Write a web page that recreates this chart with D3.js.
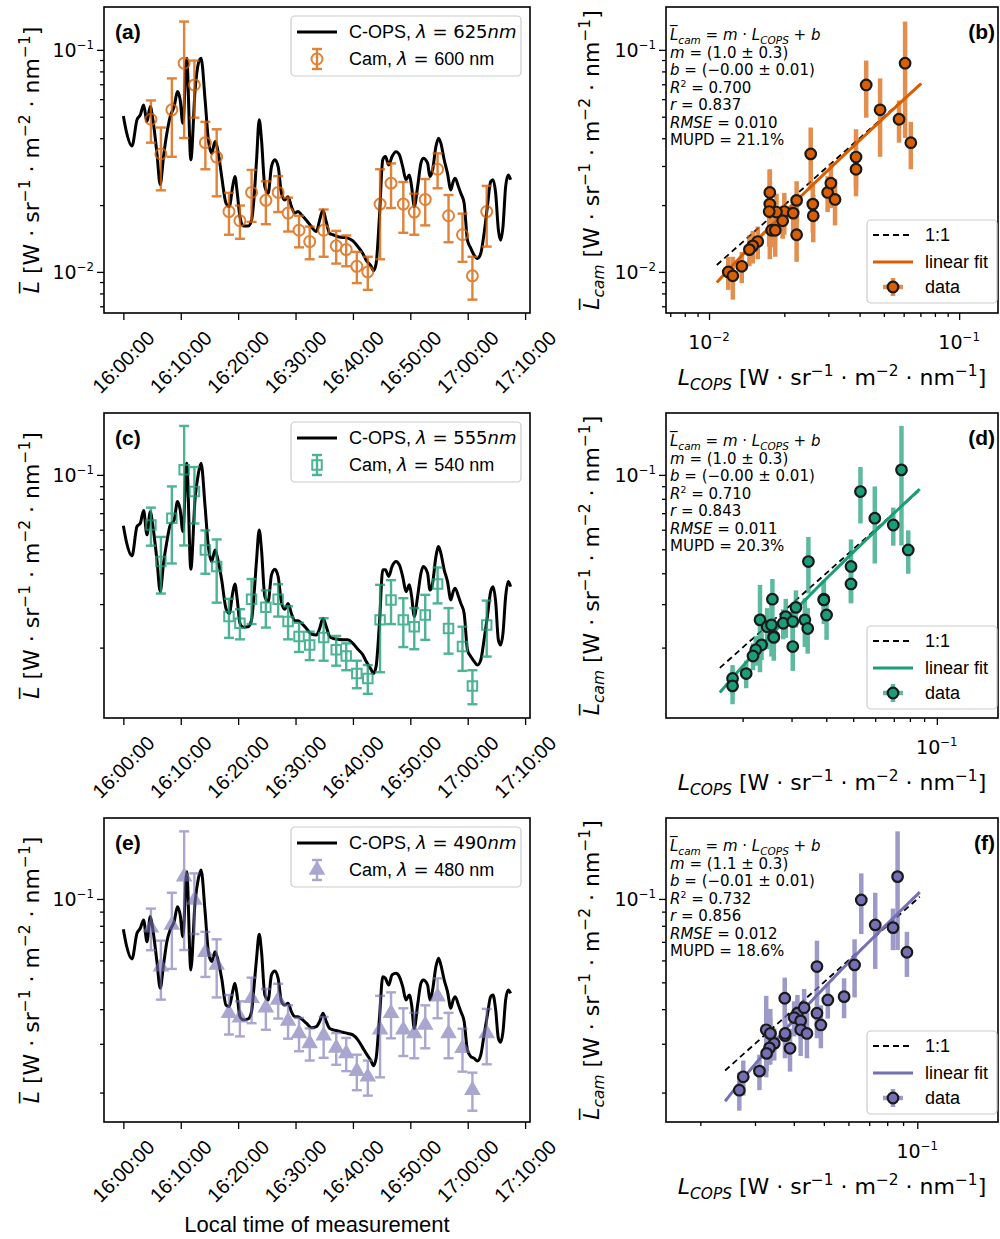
<!DOCTYPE html>
<html><head><meta charset="utf-8">
<script src="https://cdn.jsdelivr.net/npm/d3@7"></script>
<style>
body{margin:0;background:#fff;}
svg{display:block;}
</style></head><body>
<svg id="chart" width="1000" height="1239"></svg>
<script>
// ---------------- DATA ----------------
// C-OPS time stamps (minutes after 16:00:00)
const copsMinutes = [0.0,0.52,1.50,2.37,2.95,3.53,4.11,4.69,5.15,5.85,
6.42,7.00,7.58,8.16,8.85,9.43,9.90,10.36,11.05,11.75,
12.50,13.08,13.54,14.24,14.81,15.39,15.97,16.55,17.13,17.88,
18.46,19.04,19.44,19.85,20.31,20.89,21.76,22.34,22.74,23.21,
23.67,24.07,24.65,25.23,25.81,26.39,26.97,27.55,28.13,28.70,
29.28,29.86,30.44,31.02,31.89,32.75,33.62,34.20,34.78,35.36,
35.94,36.52,37.38,38.25,39.12,39.99,40.86,41.72,42.30,43.17,
43.58,44.04,44.62,45.20,45.66,46.24,46.82,47.51,48.09,48.67,
49.25,49.83,50.23,50.69,51.27,51.85,52.26,53.01,53.41,53.88,
54.46,54.92,55.32,55.90,56.48,57.06,57.47,57.81,58.39,58.80,
59.38,59.95,60.53,61.11,61.69,62.27,62.85,63.43,64.00,64.41,
64.87,65.34,65.74,66.15,66.61,67.07,67.48];
const cops625 = [0.0504,0.0429,0.0369,0.0484,0.0510,0.0565,0.0476,0.0556,0.0484,0.0342,
0.0247,0.0331,0.0421,0.0501,0.0556,0.0649,0.0596,0.0467,0.0917,0.0320,
0.0660,0.0871,0.0917,0.0596,0.0393,0.0342,0.0387,0.0342,0.0269,0.0204,
0.0197,0.0242,0.0269,0.0226,0.0177,0.0161,0.0161,0.0171,0.0211,0.0320,
0.0484,0.0393,0.0242,0.0226,0.0298,0.0320,0.0298,0.0226,0.0211,0.0218,
0.0197,0.0184,0.0187,0.0181,0.0171,0.0160,0.0152,0.0171,0.0190,0.0168,
0.0149,0.0147,0.0144,0.0143,0.0142,0.0138,0.0130,0.0121,0.0113,0.0106,
0.0101,0.0109,0.0177,0.0320,0.0331,0.0303,0.0331,0.0348,0.0337,0.0298,
0.0260,0.0273,0.0242,0.0197,0.0242,0.0309,0.0325,0.0309,0.0269,0.0288,
0.0367,0.0400,0.0380,0.0320,0.0278,0.0234,0.0255,0.0264,0.0242,0.0226,
0.0204,0.0139,0.0128,0.0119,0.0115,0.0121,0.0149,0.0197,0.0255,0.0260,
0.0226,0.0155,0.0139,0.0160,0.0242,0.0273,0.0260];
const cops555 = [0.0622,0.0537,0.0470,0.0618,0.0637,0.0717,0.0572,0.0710,0.0618,0.0453,
0.0337,0.0439,0.0537,0.0627,0.0657,0.0780,0.0722,0.0590,0.1115,0.0415,
0.0804,0.1016,0.1115,0.0744,0.0513,0.0446,0.0497,0.0446,0.0376,0.0288,
0.0275,0.0332,0.0362,0.0312,0.0251,0.0242,0.0243,0.0259,0.0322,0.0453,
0.0599,0.0497,0.0322,0.0307,0.0394,0.0415,0.0388,0.0304,0.0286,0.0302,
0.0275,0.0257,0.0257,0.0251,0.0239,0.0227,0.0225,0.0239,0.0263,0.0243,
0.0222,0.0218,0.0216,0.0215,0.0215,0.0208,0.0197,0.0187,0.0176,0.0163,
0.0157,0.0168,0.0251,0.0413,0.0413,0.0388,0.0426,0.0446,0.0432,0.0388,
0.0337,0.0359,0.0322,0.0267,0.0322,0.0400,0.0426,0.0400,0.0342,0.0364,
0.0467,0.0513,0.0482,0.0413,0.0370,0.0312,0.0337,0.0348,0.0322,0.0302,
0.0275,0.0196,0.0184,0.0176,0.0170,0.0178,0.0215,0.0267,0.0337,0.0353,
0.0307,0.0215,0.0205,0.0229,0.0322,0.0370,0.0353];
const cops490 = [0.0777,0.0682,0.0607,0.0752,0.0784,0.0840,0.0701,0.0864,0.0773,0.0594,
0.0476,0.0578,0.0701,0.0773,0.0828,0.0938,0.0875,0.0731,0.1255,0.0554,
0.0978,0.1188,0.1273,0.0900,0.0645,0.0594,0.0645,0.0594,0.0517,0.0414,
0.0409,0.0463,0.0496,0.0444,0.0376,0.0366,0.0369,0.0392,0.0476,0.0611,
0.0746,0.0645,0.0450,0.0432,0.0532,0.0550,0.0517,0.0426,0.0414,0.0420,
0.0392,0.0376,0.0376,0.0369,0.0356,0.0343,0.0346,0.0361,0.0387,0.0361,
0.0341,0.0337,0.0334,0.0330,0.0327,0.0323,0.0310,0.0290,0.0277,0.0260,
0.0250,0.0266,0.0371,0.0524,0.0517,0.0489,0.0532,0.0539,0.0524,0.0483,
0.0432,0.0450,0.0414,0.0341,0.0414,0.0496,0.0510,0.0489,0.0432,0.0469,
0.0570,0.0611,0.0578,0.0510,0.0463,0.0403,0.0432,0.0444,0.0414,0.0392,
0.0361,0.0285,0.0270,0.0266,0.0260,0.0273,0.0323,0.0381,0.0444,0.0450,
0.0398,0.0314,0.0304,0.0332,0.0432,0.0469,0.0456];

// Camera time stamps (minutes after 16:00:00)
const camMinutes = [4.80,6.54,8.45,10.59,12.38,14.29,16.26,18.40,20.31,22.34,
24.83,26.97,28.70,30.61,32.47,34.90,37.09,38.83,40.68,42.59,
44.73,46.64,48.78,50.69,52.60,54.75,56.66,59.09,60.82,63.31];
const cam600 = [0.0487,0.0340,0.0537,0.0871,0.0695,0.0382,0.0329,0.0187,0.0170,0.0228,
0.0210,0.0228,0.0184,0.0154,0.0137,0.0154,0.0131,0.0126,0.0106,0.0100,
0.0202,0.0251,0.0202,0.0186,0.0212,0.0290,0.0179,0.0147,0.0096,0.0187];
const cam600Err = [0.0105,0.0107,0.0207,0.047,0.020,0.0092,0.011,0.004,0.0029,0.006,
0.0046,0.0042,0.0032,0.0025,0.0023,0.0037,0.0022,0.002,0.0017,0.0017,
0.0088,0.0057,0.0052,0.0039,0.005,0.0052,0.0043,0.0036,0.0021,0.0057];
const cam540 = [0.0627,0.0446,0.0668,0.1048,0.0856,0.0497,0.0426,0.0267,0.0251,0.0314,
0.0291,0.0314,0.0255,0.0222,0.0205,0.0220,0.0196,0.0185,0.0157,0.0150,
0.0259,0.0312,0.0259,0.0243,0.0271,0.0362,0.0239,0.0202,0.0140,0.0247];
const cam540Err = [0.011,0.0115,0.023,0.053,0.022,0.0099,0.0122,0.0048,0.0035,0.0065,
0.005,0.0047,0.0039,0.003,0.0027,0.0043,0.0027,0.0023,0.002,0.002,
0.01,0.0063,0.0058,0.0046,0.0056,0.006,0.005,0.0041,0.0022,0.0063];
const cam480 = [0.0788,0.0570,0.0806,0.1204,0.0992,0.0642,0.0578,0.0387,0.0373,0.0438,
0.0405,0.0432,0.0363,0.0327,0.0301,0.0321,0.0290,0.0277,0.0239,0.0228,
0.0337,0.0387,0.0337,0.0327,0.0351,0.0444,0.0327,0.0289,0.0204,0.0327];
const cam480Err = [0.0135,0.0137,0.0247,0.055,0.0245,0.0119,0.0137,0.0063,0.0054,0.0082,
0.0068,0.0062,0.005,0.0045,0.004,0.0054,0.0038,0.0038,0.0035,0.0033,
0.011,0.0073,0.0066,0.0061,0.0062,0.0073,0.0061,0.0051,0.0032,0.0074];

// C-OPS radiance matched to each camera sample (scatter x values)
const copsAt600 = [0.0575,0.0255,0.0483,0.0608,0.0425,0.0641,0.0387,0.0200,0.0197,0.0175,
0.0224,0.0298,0.0217,0.0178,0.01566,0.0184,0.01496,0.0145,0.01352,0.01194,
0.0175,0.0307,0.0260,0.0186,0.0319,0.0387,0.0261,0.0224,0.01245,0.0174];
const copsAt540 = [0.0697,0.0345,0.0598,0.0746,0.0531,0.0789,0.0491,0.0286,0.0280,0.0256,
0.0311,0.0392,0.0303,0.0259,0.0234,0.0259,0.0223,0.0218,0.0206,0.0184,
0.0231,0.0392,0.0335,0.0245,0.0401,0.0491,0.0343,0.0303,0.0184,0.0254];
const copsAt480 = [0.0835,0.0475,0.0732,0.0864,0.0660,0.0926,0.0628,0.0411,0.0401,0.0374,
0.0432,0.0515,0.0421,0.0336,0.0346,0.0375,0.0334,0.0327,0.0310,0.0275,
0.0326,0.0475,0.0421,0.0441,0.0489,0.0581,0.0375,0.0389,0.0267,0.0336];

// Fit results
const fitSlopes = [1.03, 1.06, 1.12];
const fitIntercepts = [-0.0021, -0.0044, -0.0083];
const statM = ["1.0","1.0","1.1"];
const statMErr = ["0.3","0.3","0.3"];
const statB = ["−0.00","−0.00","−0.01"];
const statBErr = ["0.01","0.01","0.01"];
const statR2 = ["0.700","0.710","0.732"];
const statR = ["0.837","0.843","0.856"];
const statRMSE = ["0.010","0.011","0.012"];
const statMUPD = ["21.1%","20.3%","18.6%"];

const copsWavelengths = ["625","555","490"];
const camWavelengths = ["600","540","480"];
const timeTickLabels = ["16:00:00","16:10:00","16:20:00","16:30:00","16:40:00","16:50:00","17:00:00","17:10:00"];
const panelLetters = [["(a)","(b)"],["(c)","(d)"],["(e)","(f)"]];

// ---------------- LAYOUT ----------------
const svg = d3.select("#chart");
const SANS = "Liberation Sans, Arial, sans-serif";
const MATH = "DejaVu Sans, sans-serif";
const colors = ["#d95f02","#1b9e77","#7570b3"];
const markers = [d3.symbolCircle, d3.symbolSquare, d3.symbolTriangle];
const tsX = [104, 530], scX = [666, 998];
const rows = [{top:7,bottom:313},{top:413,bottom:718},{top:818,bottom:1122}];
const yDomains = [[0.00653,0.156],[0.01038,0.178],[0.01566,0.196]];
const sxDomains = [[0.00673,0.143],[0.0106,0.166],[0.0155,0.182]];

const copsSeries = [cops625, cops555, cops490];
const camSeries = [cam600, cam540, cam480];
const camErrSeries = [cam600Err, cam540Err, cam480Err];
const matchedSeries = [copsAt600, copsAt540, copsAt480];

const base = new Date(2021,0,1,16,0,0);
const toDate = m => new Date(base.getTime() + m*60000);
const parseT = d3.timeParse("%H:%M:%S");
const tExt = d3.extent(copsMinutes), tPad = 0.05*(tExt[1]-tExt[0]);
const x = d3.scaleTime().domain([toDate(tExt[0]-tPad), toDate(tExt[1]+tPad)]).range(tsX);
const tickDates = timeTickLabels.map(s => { const p = parseT(s); return new Date(2021,0,1,p.getHours(),p.getMinutes(),p.getSeconds()); });

function rich(parent, parts, size, attrs, supScale){
  const ss = supScale || 0.7;
  const t = parent.append("text").attr("font-size", size).attr("fill","#000");
  Object.entries(attrs||{}).forEach(([k,v]) => t.attr(k,v));
  let shift = 0;
  parts.forEach(([str, st]) => {
    const tok = (st||"").split(" ");
    let target = 0, fs = size;
    if (tok.includes("sup")) { target = -0.40*size; fs = ss*size; }
    if (tok.includes("sub")) { target = 0.24*size; fs = 0.7*size; }
    const s = t.append("tspan").text(str).attr("font-size", fs);
    if (target !== shift) s.attr("dy", target - shift);
    shift = target;
    if (tok.includes("i")) s.attr("font-style","italic");
    s.attr("font-family", tok.includes("r") ? SANS : MATH);
  });
  return t;
}
function logTicks(dom){
  const out = [];
  for (let e=-4; e<=1; e++) for (let k=1; k<=9; k++){
    const v = +(k*Math.pow(10,e)).toPrecision(6);
    if (v >= dom[0] && v <= dom[1]) out.push({v, major:k===1, e});
  }
  return out;
}
const unitParts = [[" [W · sr",""],["−1","sup"],[" · m",""],["−2","sup"],[" · nm",""],["−1","sup"],["]",""]];

function frame(g, x0, x1, top, bottom){
  g.append("rect").attr("x",x0).attr("y",top).attr("width",x1-x0).attr("height",bottom-top)
    .attr("fill","none").attr("stroke","#000").attr("stroke-width",1.6);
}
function styleAxis(a){ a.select(".domain").remove(); a.selectAll("line").attr("stroke","#000").attr("stroke-width",1.3); }
function yAxis(g, y, left, dom){
  const ticks = logTicks(dom);
  styleAxis(g.append("g").attr("transform",`translate(${left},0)`)
    .call(d3.axisLeft(y).tickValues(ticks.filter(t=>!t.major).map(t=>t.v)).tickSize(4).tickFormat("")));
  styleAxis(g.append("g").attr("transform",`translate(${left},0)`)
    .call(d3.axisLeft(y).tickValues(ticks.filter(t=>t.major).map(t=>t.v)).tickSize(7).tickFormat("")));
  ticks.filter(t=>t.major).forEach(t => {
    rich(g, [["10",""],["−"+(-t.e),"sup"]], 19, {x:left-10, y:y(t.v)+7, "text-anchor":"end"}, 0.62);
  });
}
function xLogAxis(g, xs, bottom, dom){
  const ticks = logTicks(dom);
  styleAxis(g.append("g").attr("transform",`translate(0,${bottom})`)
    .call(d3.axisBottom(xs).tickValues(ticks.filter(t=>!t.major).map(t=>t.v)).tickSize(4).tickFormat("")));
  styleAxis(g.append("g").attr("transform",`translate(0,${bottom})`)
    .call(d3.axisBottom(xs).tickValues(ticks.filter(t=>t.major).map(t=>t.v)).tickSize(7).tickFormat("")));
  ticks.filter(t=>t.major).forEach(t => {
    rich(g, [["10",""],["−"+(-t.e),"sup"]], 19, {x:xs(t.v), y:bottom+36, "text-anchor":"middle"}, 0.62);
  });
}

rows.forEach((r, i) => {
  const col = colors[i];
  const g = svg.append("g");
  const y = d3.scaleLog().domain(yDomains[i]).range([r.bottom, r.top]);

  // ----- time series panel -----
  const cops = copsSeries[i], cam = camSeries[i], err = camErrSeries[i];
  const clipId = "clip"+i;
  g.append("clipPath").attr("id",clipId).append("rect").attr("x",tsX[0]).attr("y",r.top).attr("width",tsX[1]-tsX[0]).attr("height",r.bottom-r.top);
  const line = d3.line().x((d,k)=>x(toDate(copsMinutes[k]))).y(d=>y(d)).curve(d3.curveMonotoneX);
  g.append("path").datum(cops).attr("d",line).attr("fill","none").attr("stroke","#000").attr("stroke-width",3).attr("clip-path",`url(#${clipId})`);

  const camG = g.append("g").attr("opacity", i===2 ? 0.62 : 0.78);
  cam.forEach((v,k) => {
    const cx = x(toDate(camMinutes[k]));
    const y0 = y(v+err[k]), y1 = y(v-err[k]);
    camG.append("line").attr("x1",cx).attr("x2",cx).attr("y1",y0).attr("y2",y1).attr("stroke",col).attr("stroke-width",2.4);
    [y0,y1].forEach(yy => camG.append("line").attr("x1",cx-5).attr("x2",cx+5).attr("y1",yy).attr("y2",yy).attr("stroke",col).attr("stroke-width",2.4));
    camG.append("path").attr("d", d3.symbol().type(markers[i]).size(i===2?75:(i===1?90:95))())
      .attr("transform",`translate(${cx},${y(v)})`)
      .attr("fill", i===2 ? col : "none").attr("stroke",col).attr("stroke-width",2);
  });

  frame(g, tsX[0], tsX[1], r.top, r.bottom);
  yAxis(g, y, tsX[0], yDomains[i]);
  // time axis
  styleAxis(g.append("g").attr("transform",`translate(0,${r.bottom})`)
    .call(d3.axisBottom(x).tickValues(tickDates).tickSize(7).tickFormat("")));
  tickDates.forEach((d,k) => {
    g.append("text").text(timeTickLabels[k]).attr("font-family",SANS).attr("font-size",20)
      .attr("text-anchor","middle").attr("dominant-baseline","central")
      .attr("transform",`translate(${x(d)},${r.bottom+49}) rotate(-45)`);
  });
  rich(g, [["L\u0305","i"]].concat(unitParts), 22, {"text-anchor":"middle", transform:`translate(39,${(r.top+r.bottom)/2}) rotate(-90)`});
  g.append("text").text(panelLetters[i][0]).attr("x",tsX[0]+11).attr("y",r.top+32)
    .attr("font-family",SANS).attr("font-weight","bold").attr("font-size",21);

  // legend (time series)
  const lg = g.append("g");
  lg.append("rect").attr("x",291).attr("y",r.top+9).attr("width",230).attr("height",60).attr("rx",4)
    .attr("fill","#fff").attr("fill-opacity",0.8).attr("stroke","#cccccc").attr("stroke-width",1.2);
  lg.append("line").attr("x1",297).attr("x2",337).attr("y1",r.top+25).attr("y2",r.top+25).attr("stroke","#000").attr("stroke-width",3);
  rich(lg, [["C-OPS, ","r"],["λ","i"],[" = "+copsWavelengths[i],""],["nm","i"]], 18, {x:349, y:r.top+31});
  const lm = lg.append("g").attr("opacity", i===2 ? 0.62 : 0.78);
  const ly = r.top+52;
  lm.append("line").attr("x1",317).attr("x2",317).attr("y1",ly-10).attr("y2",ly+10).attr("stroke",col).attr("stroke-width",2.4);
  [ly-10, ly+10].forEach(yy => lm.append("line").attr("x1",312).attr("x2",322).attr("y1",yy).attr("y2",yy).attr("stroke",col).attr("stroke-width",2.4));
  lm.append("path").attr("d", d3.symbol().type(markers[i]).size(i===2?75:(i===1?90:95))())
    .attr("transform",`translate(317,${ly})`).attr("fill", i===2 ? col : "none").attr("stroke",col).attr("stroke-width",2);
  rich(lg, [["Cam, ","r"],["λ","i"],[" = ",""],[camWavelengths[i]+" nm","r"]], 18, {x:349, y:ly+6});

  // ----- scatter panel -----
  const sx = d3.scaleLog().domain(sxDomains[i]).range(scX);
  const mx = matchedSeries[i];
  const sg = g.append("g");
  const sclip = "sclip"+i;
  sg.append("clipPath").attr("id",sclip).append("rect").attr("x",scX[0]).attr("y",r.top).attr("width",scX[1]-scX[0]).attr("height",r.bottom-r.top);
  const xr = [0.9*d3.min(mx), 1.1*d3.max(mx)];
  sg.append("line").attr("x1",sx(xr[0])).attr("x2",sx(xr[1])).attr("y1",y(xr[0])).attr("y2",y(xr[1]))
    .attr("stroke","#000").attr("stroke-width",1.8).attr("stroke-dasharray","6,4").attr("clip-path",`url(#${sclip})`);
  const fitX = d3.range(0,61).map(k => xr[0]*Math.pow(xr[1]/xr[0], k/60));
  sg.append("path").datum(fitX).attr("d", d3.line().x(d=>sx(d)).y(d=>y(fitSlopes[i]*d+fitIntercepts[i])))
    .attr("fill","none").attr("stroke",col).attr("stroke-width",3).attr("clip-path",`url(#${sclip})`);
  const eb = sg.append("g").attr("opacity",0.7);
  cam.forEach((v,k) => {
    eb.append("line").attr("x1",sx(mx[k])).attr("x2",sx(mx[k])).attr("y1",y(v+err[k])).attr("y2",y(v-err[k]))
      .attr("stroke",col).attr("stroke-width",4.5);
  });
  cam.forEach((v,k) => {
    sg.append("circle").attr("cx",sx(mx[k])).attr("cy",y(v)).attr("r",5.3)
      .attr("fill",col).attr("stroke","#1a1a1a").attr("stroke-width",2.2);
  });
  frame(g, scX[0], scX[1], r.top, r.bottom);
  yAxis(g, y, scX[0], yDomains[i]);
  xLogAxis(g, sx, r.bottom, sxDomains[i]);
  rich(g, [["L\u0305","i"],["cam","i sub"]].concat(unitParts), 22, {"text-anchor":"middle", transform:`translate(599,${(r.top+r.bottom)/2}) rotate(-90)`});
  rich(g, [["L","i"],["COPS","i sub"]].concat(unitParts), 22, {"text-anchor":"middle", x:(scX[0]+scX[1])/2, y:r.bottom+72});
  g.append("text").text(panelLetters[i][1]).attr("x",995).attr("y",r.top+32).attr("text-anchor","end")
    .attr("font-family",SANS).attr("font-weight","bold").attr("font-size",21);

  // stats annotation
  const ann = [
    [["L\u0305","i"],["cam","i sub"],[" = ",""],["m","i"],[" · ",""],["L","i"],["COPS","i sub"],[" + ",""],["b","i"]],
    [["m","i"],[` = (${statM[i]} ± ${statMErr[i]})`,""]],
    [["b","i"],[` = (${statB[i]} ± ${statBErr[i]})`,""]],
    [["R","i"],["2","sup"],[` = ${statR2[i]}`,""]],
    [["r","i"],[` = ${statR[i]}`,""]],
    [["RMSE","i"],[` = ${statRMSE[i]}`,""]],
    [[`MUPD = ${statMUPD[i]}`,""]]
  ];
  ann.forEach((p,k) => rich(g, p, 15, {x:scX[0]+4, y:r.top+33+k*17.5}, 0.62));

  // scatter legend
  const sl = g.append("g");
  sl.append("rect").attr("x",867).attr("y",r.top+213).attr("width",130).attr("height",83).attr("rx",4)
    .attr("fill","#fff").attr("fill-opacity",0.8).attr("stroke","#cccccc").attr("stroke-width",1.2);
  const e1 = r.top+228, e2 = r.top+255, e3 = r.top+280;
  sl.append("line").attr("x1",873).attr("x2",913).attr("y1",e1).attr("y2",e1).attr("stroke","#000").attr("stroke-width",1.8).attr("stroke-dasharray","6,4");
  sl.append("line").attr("x1",873).attr("x2",913).attr("y1",e2).attr("y2",e2).attr("stroke",col).attr("stroke-width",3);
  const dm = sl.append("g").attr("opacity",0.7);
  dm.append("line").attr("x1",893).attr("x2",893).attr("y1",e3-9).attr("y2",e3+9).attr("stroke",col).attr("stroke-width",4.5);
  dm.append("line").attr("x1",883).attr("x2",903).attr("y1",e3).attr("y2",e3).attr("stroke",col).attr("stroke-width",4.5);
  sl.append("circle").attr("cx",893).attr("cy",e3).attr("r",5.3).attr("fill",col).attr("stroke","#1a1a1a").attr("stroke-width",2.2);
  [["1:1",e1],["linear fit",e2],["data",e3]].forEach(([t,yy]) =>
    sl.append("text").text(t).attr("x",925).attr("y",yy+6).attr("font-family",SANS).attr("font-size",18));
});

svg.append("text").text("Local time of measurement").attr("x",(tsX[0]+tsX[1])/2).attr("y",1232)
  .attr("text-anchor","middle").attr("font-family",SANS).attr("font-size",22);
</script>
</body></html>
